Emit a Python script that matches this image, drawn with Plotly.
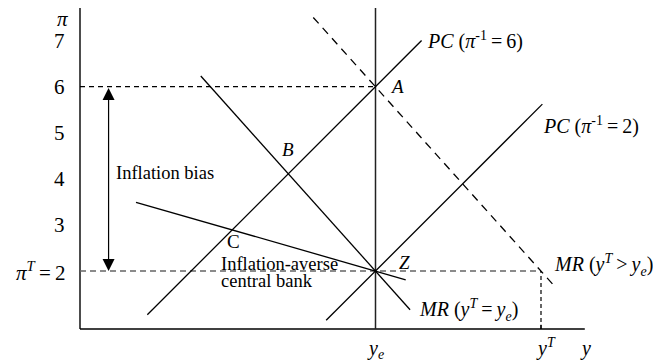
import plotly.graph_objects as go

# ---- data ----
y_e = 6.41          # equilibrium output
y_T = 10.0          # target output (y^T > y_e)
pi_T = 2            # inflation target
pi_prev = 6         # lagged inflation for the upper PC
pi_base = 0.742     # pi level where the horizontal axis is drawn
pi_top = 7.73       # top of vertical axis
y_end = 10.95       # right end of horizontal axis

tick_vals = [3, 4, 5, 6, 7]
tick_text = ["3", "4", "5", "6", "7"]

pc6_y, pc6_pi = [1.46, 7.41], [1.05, 7.0]
pc2_y, pc2_pi = [5.34, 10.03], [0.93, 5.62]
mr_e_y, mr_e_pi = [2.62, 7.16], [6.23, 1.16]
mr_T_y, mr_T_pi = [5.06, 10.33], [7.5, 1.63]
mr_av_y, mr_av_pi = [1.215, 7.065], [3.49, 1.81]
arrow_y = 0.62

# ---- pixel helpers for label placement only ----
PX0, PY0, S = 80.0, 271.0, 46.1
def X(px):
    return (px - PX0) / S
def Y(py):
    return pi_T - (py - PY0) / S

OFF = 8  # page body margin
FONT = "Liberation Serif, Times New Roman, serif"
fig = go.Figure()

def line(xs, ys, color="black", width=1.3, dash="solid"):
    fig.add_trace(go.Scatter(x=xs, y=ys, mode="lines",
                             line=dict(color=color, width=width, dash=dash),
                             hoverinfo="skip", showlegend=False))

# axes
line([0, 0], [pi_base, pi_top], width=1.4)
line([0, y_end], [pi_base, pi_base], width=1.4)
line([y_e, y_e], [pi_base, pi_top], color="#222", width=1.5)
line([y_T, y_T], [pi_base, pi_base + 0.09], width=1.2)

# reference dashed lines
line([0, y_e], [pi_prev, pi_prev], dash="5px,4px", width=1.2)
line([0, y_T], [pi_T, pi_T], color="#666", dash="6px,4px", width=1.3)
line([y_T, y_T], [pi_base, pi_T], dash="4px,3px", width=1.2)

# curves
line(pc6_y, pc6_pi)
line(pc2_y, pc2_pi)
line(mr_e_y, mr_e_pi)
line(mr_T_y, mr_T_pi, dash="8px,6px")
line(mr_av_y, mr_av_pi)

ann = []
def text(t, x, y, size=18, xanchor="center", yanchor="middle"):
    ann.append(dict(text=t, x=x, y=y, xref="x", yref="y", showarrow=False,
                    xanchor=xanchor, yanchor=yanchor,
                    font=dict(family=FONT, size=size, color="black")))

TS = "\u2009"
# tick labels
for v, t in zip(tick_vals, tick_text):
    text(t, X(67), v, size=21, xanchor="right")
text("<i>π</i><sup><i>T</i></sup>" + TS + "=" + TS + "2", X(67), pi_T, size=21, xanchor="right")
text("<i>π</i>", X(62.5), Y(19), size=21)

text("<i>y</i><sub><i>e</i></sub>", y_e, Y(349), size=20)
text("<i>y</i><sup><i>T</i></sup>", X(546), Y(347), size=20)
text("<i>y</i>", X(585), Y(348), size=20)

# point labels
text("<i>A</i>", X(397), Y(86.5), size=19)
text("<i>B</i>", X(287.5), Y(149.5), size=19)
text("C", X(233), Y(241.5), size=19)
text("<i>Z</i>", X(404.5), Y(262), size=19)

# curve labels
text("<i>PC</i> (<i>π</i><sup>-1</sup>" + TS + "=" + TS + "6)", X(425), Y(40), size=20, xanchor="left")
text("<i>PC</i> (<i>π</i><sup>-1</sup>" + TS + "=" + TS + "2)", X(541), Y(125), size=20, xanchor="left")
text("<i>MR</i> (<i>y</i><sup><i>T</i></sup>" + TS + ">" + TS + "<i>y</i><sub><i>e</i></sub>)",
     X(552), Y(265), size=20, xanchor="left")
text("<i>MR</i> (<i>y</i><sup><i>T</i></sup>" + TS + "=" + TS + "<i>y</i><sub><i>e</i></sub>)",
     X(417), Y(310), size=20, xanchor="left")

text("Inflation bias", X(114), Y(172.5), size=18.5, xanchor="left")
text("Inflation-averse", X(219), Y(264), size=18.5, xanchor="left")
text("central bank", X(219), Y(281), size=18.5, xanchor="left")

# double-headed arrow
ann.append(dict(x=arrow_y, y=pi_T, ax=arrow_y, ay=pi_prev, xref="x", yref="y",
                axref="x", ayref="y", showarrow=True, text="",
                arrowhead=2, startarrowhead=2, arrowside="end+start",
                arrowsize=2, startarrowsize=2, arrowwidth=1.2, arrowcolor="black"))

fig.update_layout(
    width=661 - OFF, height=361 - OFF,
    margin=dict(l=0, r=0, t=0, b=0),
    paper_bgcolor="white", plot_bgcolor="white",
    xaxis=dict(range=[X(OFF), X(661)], visible=False, fixedrange=True),
    yaxis=dict(range=[Y(361), Y(OFF)], visible=False, fixedrange=True),
    annotations=ann,
    showlegend=False,
)
fig.write_html("out.html")
